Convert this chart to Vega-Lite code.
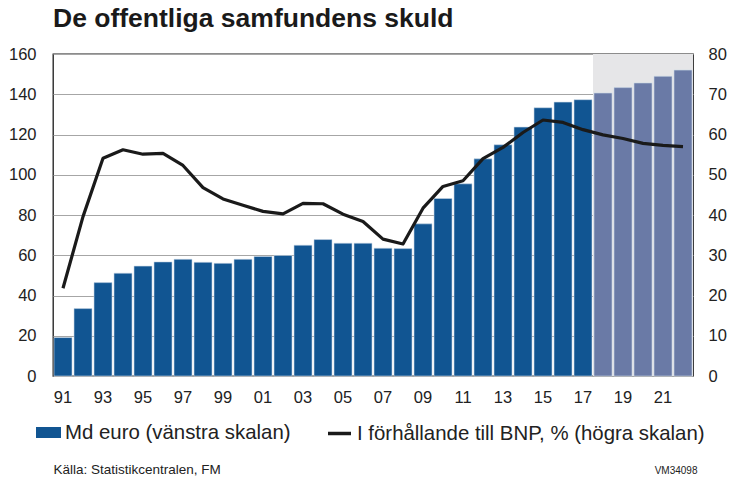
{
  "$schema": "https://vega.github.io/schema/vega-lite/v6.json",
  "width": 640,
  "height": 322,
  "autosize": {"type": "none"},
  "padding": {"left": 53, "top": 54, "right": 38, "bottom": 104},
  "title": {
    "text": "De offentliga samfundens skuld",
    "anchor": "start",
    "frame": "group",
    "fontSize": 26.5,
    "fontWeight": "bold",
    "color": "#1a1a1a",
    "baseline": "alphabetic",
    "offset": -7
  },
  "data": {
    "values": [
      {"year": 1991, "debt": 19.1, "ratio": 21.8, "phase": "Md euro (vänstra skalan)"},
      {"year": 1992, "debt": 33.5, "ratio": 39.6, "phase": "Md euro (vänstra skalan)"},
      {"year": 1993, "debt": 46.4, "ratio": 54.1, "phase": "Md euro (vänstra skalan)"},
      {"year": 1994, "debt": 51.1, "ratio": 56.2, "phase": "Md euro (vänstra skalan)"},
      {"year": 1995, "debt": 54.6, "ratio": 55.1, "phase": "Md euro (vänstra skalan)"},
      {"year": 1996, "debt": 56.7, "ratio": 55.3, "phase": "Md euro (vänstra skalan)"},
      {"year": 1997, "debt": 58.0, "ratio": 52.3, "phase": "Md euro (vänstra skalan)"},
      {"year": 1998, "debt": 56.5, "ratio": 46.8, "phase": "Md euro (vänstra skalan)"},
      {"year": 1999, "debt": 56.0, "ratio": 44.0, "phase": "Md euro (vänstra skalan)"},
      {"year": 2000, "debt": 58.0, "ratio": 42.4, "phase": "Md euro (vänstra skalan)"},
      {"year": 2001, "debt": 59.4, "ratio": 40.9, "phase": "Md euro (vänstra skalan)"},
      {"year": 2002, "debt": 59.9, "ratio": 40.3, "phase": "Md euro (vänstra skalan)"},
      {"year": 2003, "debt": 65.0, "ratio": 42.9, "phase": "Md euro (vänstra skalan)"},
      {"year": 2004, "debt": 67.8, "ratio": 42.8, "phase": "Md euro (vänstra skalan)"},
      {"year": 2005, "debt": 66.0, "ratio": 40.2, "phase": "Md euro (vänstra skalan)"},
      {"year": 2006, "debt": 66.0, "ratio": 38.4, "phase": "Md euro (vänstra skalan)"},
      {"year": 2007, "debt": 63.5, "ratio": 34.0, "phase": "Md euro (vänstra skalan)"},
      {"year": 2008, "debt": 63.3, "ratio": 32.8, "phase": "Md euro (vänstra skalan)"},
      {"year": 2009, "debt": 75.6, "ratio": 41.7, "phase": "Md euro (vänstra skalan)"},
      {"year": 2010, "debt": 88.2, "ratio": 47.1, "phase": "Md euro (vänstra skalan)"},
      {"year": 2011, "debt": 95.5, "ratio": 48.5, "phase": "Md euro (vänstra skalan)"},
      {"year": 2012, "debt": 107.9, "ratio": 54.0, "phase": "Md euro (vänstra skalan)"},
      {"year": 2013, "debt": 114.9, "ratio": 56.8, "phase": "Md euro (vänstra skalan)"},
      {"year": 2014, "debt": 123.7, "ratio": 60.5, "phase": "Md euro (vänstra skalan)"},
      {"year": 2015, "debt": 133.3, "ratio": 63.6, "phase": "Md euro (vänstra skalan)"},
      {"year": 2016, "debt": 136.1, "ratio": 63.0, "phase": "Md euro (vänstra skalan)"},
      {"year": 2017, "debt": 137.3, "ratio": 61.2, "phase": "Md euro (vänstra skalan)"},
      {"year": 2018, "debt": 140.6, "ratio": 59.9, "phase": "Prognos"},
      {"year": 2019, "debt": 143.3, "ratio": 59.0, "phase": "Prognos"},
      {"year": 2020, "debt": 145.6, "ratio": 57.8, "phase": "Prognos"},
      {"year": 2021, "debt": 148.9, "ratio": 57.3, "phase": "Prognos"},
      {"year": 2022, "debt": 152.0, "ratio": 57.0, "phase": "Prognos"}
    ]
  },
  "encoding": {
    "x": {
      "field": "year",
      "type": "ordinal",
      "scale": {"paddingInner": 0.1, "paddingOuter": 0.05},
      "axis": {
        "labelAngle": 0,
        "labelExpr": "datum.value % 2 == 1 ? slice(toString(datum.value), 2) : ''",
        "ticks": false,
        "domain": false,
        "labelPadding": 13,
        "labelFontSize": 16.5,
        "labelColor": "#222222",
        "title": "Källa: Statistikcentralen, FM",
        "titleFontSize": 13.5,
        "titleFontWeight": "normal",
        "titleColor": "#222222",
        "titleAlign": "left",
        "titleAnchor": "start",
        "titleBaseline": "alphabetic",
        "titleX": 0,
        "titleY": 97
      }
    }
  },
  "layer": [
    {
      "layer": [
        {
          "transform": [{"filter": "datum.phase == 'Prognos'"}],
          "mark": {"type": "bar", "color": "#e6e6e8", "width": {"band": 1.112}},
          "encoding": {
            "y": {"datum": 160, "type": "quantitative"}
          }
        },
        {
          "mark": {"type": "bar", "stroke": "#c9d6e6", "strokeWidth": 0.6},
          "encoding": {
            "y": {
              "field": "debt",
              "type": "quantitative",
              "scale": {"domain": [0, 160]},
              "axis": {
                "orient": "left",
                "values": [0, 20, 40, 60, 80, 100, 120, 140, 160],
                "ticks": false,
                "domain": false,
                "grid": true,
                "gridColor": "#a6a6a6",
                "gridWidth": 1,
                "labelPadding": 17,
                "labelFontSize": 16.5,
                "labelColor": "#222222",
                "title": null
              }
            },
            "color": {
              "field": "phase",
              "type": "nominal",
              "scale": {
                "domain": ["Md euro (vänstra skalan)", "Prognos"],
                "range": ["#115592", "#6a7aa6"]
              },
              "legend": {
                "values": ["Md euro (vänstra skalan)"],
                "title": null,
                "orient": "none",
                "direction": "horizontal",
                "legendX": -17,
                "legendY": 366,
                "padding": 0,
                "symbolType": "M-1,-0.44H1V0.44H-1Z",
                "symbolSize": 625,
                "symbolStrokeWidth": 0,
                "symbolOpacity": 1,
                "labelFontSize": 20.4,
                "labelColor": "#222222",
                "labelOffset": 4,
                "labelLimit": 500
              }
            }
          }
        }
      ]
    },
    {
      "mark": {"type": "line", "strokeWidth": 3.2, "strokeJoin": "round"},
      "encoding": {
        "y": {
          "field": "ratio",
          "type": "quantitative",
          "scale": {"domain": [0, 80]},
          "axis": {
            "orient": "right",
            "values": [0, 10, 20, 30, 40, 50, 60, 70, 80],
            "ticks": false,
            "domain": false,
            "grid": false,
            "labelPadding": 15,
            "labelFontSize": 16.5,
            "labelColor": "#222222",
            "title": "VM34098",
            "titleAngle": 0,
            "titleFontSize": 10,
            "titleFontWeight": "normal",
            "titleColor": "#222222",
            "titleAlign": "right",
            "titleBaseline": "alphabetic",
            "titleX": 4,
            "titleY": 419
          }
        },
        "stroke": {
          "datum": "I förhållande till BNP, % (högra skalan)",
          "scale": {"range": ["#1a1a1a"]},
          "legend": {
            "title": null,
            "orient": "none",
            "direction": "horizontal",
            "legendX": 273,
            "legendY": 366,
            "padding": 0,
            "symbolType": "stroke",
            "symbolSize": 529,
            "symbolStrokeWidth": 3.5,
            "symbolOpacity": 1,
            "labelFontSize": 20.4,
            "labelColor": "#222222",
            "labelOffset": 4,
            "labelLimit": 500
          }
        }
      }
    }
  ],
  "resolve": {"scale": {"y": "independent"}},
  "config": {
    "font": "Liberation Sans",
    "view": {"stroke": "#1a1a1a", "strokeWidth": 1.3}
  }
}
